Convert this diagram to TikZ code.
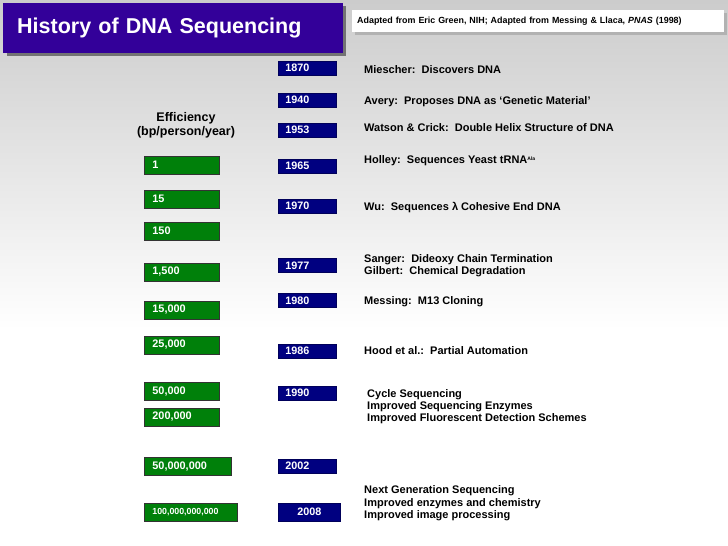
\documentclass[tikz,border=0pt]{standalone}
\usepackage{fontspec}
\setmainfont{Liberation Sans}
\definecolor{titleblue}{HTML}{330099}
\definecolor{yearblue}{HTML}{000080}
\definecolor{effgreen}{HTML}{00800A}
\begin{document}
\begin{tikzpicture}[x=1pt,y=-1pt,
  yearbox/.style={fill=yearblue, draw=yearblue!70!black, line width=0.6pt, text=white, font=\fontsize{10.8}{12}\selectfont\bfseries, anchor=west, minimum height=14pt, inner sep=0pt, inner xsep=7pt, text width=44pt, align=left},
  effbox/.style={fill=effgreen, draw=black!80, line width=0.8pt, text=white, font=\fontsize{10.9}{12}\selectfont\bfseries, anchor=west, minimum height=18pt, inner sep=0pt, inner xsep=8pt, align=left},
  event/.style={anchor=west, font=\fontsize{11}{12}\selectfont\bfseries, inner sep=0pt, align=left}
]
\useasboundingbox (0,0) rectangle (728,546);
\shade[top color=black!20, bottom color=white] (0,0) rectangle (728,330);
\fill[white] (0,330) rectangle (728,546);
% title
\fill[black!55] (7,6) rectangle (346,56);
\node[fill=titleblue, anchor=north west, minimum width=340pt, minimum height=50pt, inner sep=0pt, inner xsep=14pt, text=white, font=\fontsize{21.5}{24}\selectfont\bfseries, text width=312pt, align=left] (title) at (3,3) {History of DNA Sequencing};
% citation
\fill[black!30] (355,13) rectangle (727,35);
\node[fill=white, anchor=north west, minimum width=372pt, minimum height=22pt, inner sep=0pt, inner xsep=5pt, font=\fontsize{8.9}{10}\selectfont\bfseries, text width=362pt, align=left] (cite) at (352,10) {Adapted from Eric Green, NIH; Adapted from Messing \& Llaca, \textit{PNAS} (1998)};
% efficiency header
\node[font=\fontsize{12.5}{14}\selectfont\bfseries, align=center, inner sep=0pt] (effhead) at (186,125) {Efficiency\\(bp/person/year)};
% green boxes
\node[effbox, minimum width=75pt, text width=59pt] (e1) at (144,165) {1};
\node[effbox, minimum width=75pt, text width=59pt] (e2) at (144,199) {15};
\node[effbox, minimum width=75pt, text width=59pt] (e3) at (144,231) {150};
\node[effbox, minimum width=75pt, text width=59pt] (e4) at (144,272) {1,500};
\node[effbox, minimum width=75pt, text width=59pt] (e5) at (144,310) {15,000};
\node[effbox, minimum width=75pt, text width=59pt] (e6) at (144,345) {25,000};
\node[effbox, minimum width=75pt, text width=59pt] (e7) at (144,391.5) {50,000};
\node[effbox, minimum width=75pt, text width=59pt] (e8) at (144,417) {200,000};
\node[effbox, minimum width=87pt, text width=71pt] (e9) at (144,466.5) {50,000,000};
\node[effbox, minimum width=93pt, text width=77pt, font=\fontsize{8.8}{10}\selectfont\bfseries] (e10) at (144,512) {100,000,000,000};
% year boxes
\node[yearbox] (y1870) at (278,68) {1870};
\node[yearbox] (y1940) at (278,100) {1940};
\node[yearbox] (y1953) at (278,130) {1953};
\node[yearbox] (y1965) at (278,166) {1965};
\node[yearbox] (y1970) at (278,206) {1970};
\node[yearbox] (y1977) at (278,265.5) {1977};
\node[yearbox] (y1980) at (278,300.5) {1980};
\node[yearbox] (y1986) at (278,351) {1986};
\node[yearbox] (y1990) at (278,393) {1990};
\node[yearbox] (y2002) at (278,466) {2002};
\node[yearbox, minimum height=18pt, text width=48pt, align=center] (y2008) at (278,512) {2008};
% events
\node[event] (t1870) at (364,69.5) {Miescher:\ \ Discovers DNA};
\node[event] (t1940) at (364,101.5) {Avery:\ \ Proposes DNA as ‘Genetic Material’};
\node[event] (t1953) at (364,127.5) {Watson \& Crick:\ \ Double Helix Structure of DNA};
\node[event] (t1965) at (364,160.5) {Holley:\ \ Sequences Yeast tRNA\raisebox{3pt}{\fontsize{5}{6}\selectfont Ala}};
\node[event] (t1970) at (364,207.5) {Wu:\ \ Sequences \textbf{λ} Cohesive End DNA};
\node[event] (t1977) at (364,266) {Sanger:\ \ Dideoxy Chain Termination\\Gilbert:\ \ Chemical Degradation};
\node[event] (t1980) at (364,301.5) {Messing:\ \ M13 Cloning};
\node[event] (t1986) at (364,350.5) {Hood et al.:\ \ Partial Automation};
\node[event] (t1990) at (367,407) {Cycle Sequencing\\Improved Sequencing Enzymes\\Improved Fluorescent Detection Schemes};
\node[event, font=\fontsize{11}{12.5}\selectfont\bfseries] (t2008) at (364,503.5) {Next Generation Sequencing\\Improved enzymes and chemistry\\Improved image processing};
\end{tikzpicture}
\end{document}
